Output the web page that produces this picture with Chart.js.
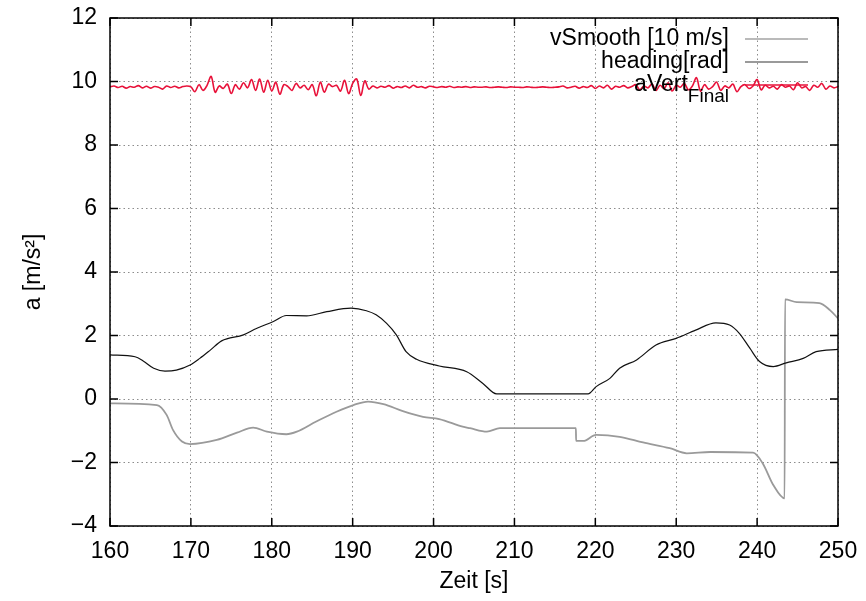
<!DOCTYPE html>
<html>
<head>
<meta charset="utf-8">
<script src="https://cdn.jsdelivr.net/npm/chart.js@4/dist/chart.umd.min.js"></script>
<style>
  html, body { margin: 0; padding: 0; background: #fff; }
  canvas { display: block; }
</style>
</head>
<body>
<canvas id="chart" width="866" height="601"></canvas>
<script>
// vSmooth [10 m/s] - black line
const vSmoothTime = [160, 163.1, 164.1, 165.4, 166.8, 168.2, 169.9, 171.1, 172.4, 173.8, 176.5, 178.1, 180.2, 181.8, 184.3, 186.8, 189.8, 191.7, 192.9, 194.2, 195.4, 196.6, 197.9, 200.7, 204.1, 206.1, 207.8, 219.1, 220.1, 221.8, 223, 225.1, 227.5, 230, 232.4, 234.9, 236.6, 237.8, 239.1, 240.3, 242, 243.6, 245.7, 247.3, 250];
const vSmoothValues = [1.39, 1.33, 1.2, 0.97, 0.88, 0.91, 1.07, 1.28, 1.54, 1.83, 2.02, 2.22, 2.44, 2.63, 2.62, 2.75, 2.86, 2.78, 2.65, 2.38, 2.02, 1.49, 1.25, 1.04, 0.86, 0.49, 0.16, 0.16, 0.39, 0.65, 0.97, 1.23, 1.7, 1.91, 2.17, 2.4, 2.33, 2.07, 1.6, 1.18, 1.02, 1.14, 1.28, 1.49, 1.56];

// heading[rad] - grey line
const headingTime = [160, 165.8, 167, 167.8, 168.9, 169.9, 173.2, 175.7, 177.7, 179.4, 181.8, 183.1, 185.5, 188, 190.1, 191.9, 193.8, 196.2, 198.7, 200.7, 203.6, 204.5, 206.6, 208.2, 217.6, 217.62, 218.5, 220.1, 223, 225.9, 229.2, 231.3, 234.2, 239.5, 240.7, 242, 243.4, 243.45, 244.9, 247.7, 249, 250];
const headingValues = [-0.14, -0.19, -0.5, -0.98, -1.34, -1.42, -1.29, -1.06, -0.9, -1.03, -1.11, -1.03, -0.71, -0.4, -0.19, -0.08, -0.16, -0.38, -0.56, -0.63, -0.87, -0.92, -1.03, -0.92, -0.92, -1.32, -1.32, -1.13, -1.19, -1.37, -1.55, -1.71, -1.67, -1.69, -2.03, -2.71, -3.13, 3.14, 3.05, 3.02, 2.8, 2.54];

// aVert_Final - red line, sampled every 0.5 s from 160 s
const aVertStart = 160;
const aVertStep = 0.5;
const aVertValues = [
  9.83, 9.86, 9.81, 9.85, 9.79, 9.84, 9.82, 9.87, 9.80, 9.85, 9.79, 9.84, 9.82, 9.76, 9.86, 9.81, 9.85, 9.80, 9.84, 9.86, 9.83,
  9.68, 9.90, 9.72, 9.88, 10.16, 9.66, 9.86, 9.78, 9.92, 9.62, 9.90, 9.76, 9.96, 9.80,
  10.06, 9.72, 10.08, 9.66, 10.04, 9.70, 9.98, 9.60, 9.90, 9.84, 9.72, 9.94, 9.80, 9.88, 9.74, 9.90,
  9.55, 9.98, 9.66, 9.92, 9.84, 9.88, 9.70, 10.04, 9.62, 9.94, 10.08, 9.56, 10.02, 9.76,
  9.86, 9.80, 9.85, 9.82, 9.87, 9.79, 9.84, 9.81, 9.86, 9.80, 9.88, 9.82, 9.84, 9.80, 9.85, 9.83, 9.81, 9.84, 9.82, 9.85,
  9.81, 9.83, 9.82, 9.84, 9.81, 9.83, 9.82, 9.82, 9.83, 9.81, 9.82, 9.83, 9.82, 9.81, 9.83, 9.82, 9.82, 9.81, 9.83, 9.82,
  9.81, 9.82, 9.83, 9.82, 9.81, 9.82,
  9.83, 9.86, 9.80, 9.82, 9.85, 9.79, 9.84, 9.81, 9.87, 9.78, 9.86, 9.80, 9.88, 9.76, 9.85, 9.82, 9.87, 9.80, 9.84, 9.90,
  9.74, 9.86, 9.80, 9.92, 9.72, 9.88, 9.78, 9.96, 9.70, 9.88, 9.82, 9.94, 9.74, 9.86, 10.12, 9.70, 9.90, 9.76, 9.84, 9.98,
  9.72, 9.86, 9.80, 9.92, 9.68, 9.84, 9.90, 9.78, 9.86, 10.06, 9.74, 9.88, 9.80, 9.85, 9.76, 9.90, 9.82, 9.86, 9.74, 9.96,
  9.80, 9.84, 9.72, 9.88, 9.82, 9.94, 9.76, 9.86, 9.80, 9.84
];

const xTicks = [160, 170, 180, 190, 200, 210, 220, 230, 240, 250];
const yTicks = [-4, -2, 0, 2, 4, 6, 8, 10, 12];

const FONT = "'Liberation Sans', Arial, Helvetica, sans-serif";

const toPoints = (xs, ys) => ys.map((y, i) => ({ x: xs[i], y: y }));

const aVertPoints = aVertValues.map((y, i) => ({ x: aVertStart + i * aVertStep, y: y }));

// gnuplot-like frame with inward ticks on all four sides
const framePlugin = {
    id: "frame",
    afterDatasetsDraw(chart) {
        const { ctx, chartArea, scales } = chart;
        const len = 8;
        ctx.save();
        ctx.strokeStyle = "#000";
        ctx.lineWidth = 1.5;
        ctx.beginPath();
        xTicks.forEach((v) => {
            const px = scales.x.getPixelForValue(v);
            ctx.moveTo(px, chartArea.bottom);
            ctx.lineTo(px, chartArea.bottom - len);
            ctx.moveTo(px, chartArea.top);
            ctx.lineTo(px, chartArea.top + len);
        });
        yTicks.forEach((v) => {
            const py = scales.y.getPixelForValue(v);
            ctx.moveTo(chartArea.left, py);
            ctx.lineTo(chartArea.left + len, py);
            ctx.moveTo(chartArea.right, py);
            ctx.lineTo(chartArea.right - len, py);
        });
        ctx.stroke();
        ctx.strokeRect(chartArea.left, chartArea.top, chartArea.right - chartArea.left, chartArea.bottom - chartArea.top);
        ctx.restore();
    },
    afterDraw(chart) {
        // key in the top right corner, text right aligned, sample line after it
        const { ctx, chartArea } = chart;
        const textRight = chartArea.right - 109;
        const lineStart = chartArea.right - 93;
        const lineEnd = chartArea.right - 30;
        const rows = [chartArea.top + 21, chartArea.top + 44, chartArea.top + 67];
        const datasets = chart.data.datasets;
        ctx.save();
        ctx.textBaseline = "middle";
        ctx.textAlign = "right";
        ctx.fillStyle = "#000";
        ctx.font = "23px " + FONT;
        ctx.fillText("vSmooth [10 m/s]", textRight, rows[0]);
        ctx.fillText("heading[rad]", textRight, rows[1]);
        ctx.font = "19px " + FONT;
        const subW = ctx.measureText("Final").width;
        ctx.fillText("Final", textRight, rows[2] + 12);
        ctx.font = "23px " + FONT;
        ctx.fillText("aVert", textRight - subW, rows[2]);
        rows.forEach((y, i) => {
            ctx.strokeStyle = i === 0 ? "#777" : datasets[i].borderColor;
            ctx.lineWidth = datasets[i].borderWidth;
            ctx.beginPath();
            ctx.moveTo(lineStart, y);
            ctx.lineTo(lineEnd, y);
            ctx.stroke();
        });
        ctx.restore();
    },
};

new Chart(document.getElementById("chart").getContext("2d"), {
    type: "line",
    data: {
        datasets: [
            {
                label: "vSmooth [10 m/s]",
                data: toPoints(vSmoothTime, vSmoothValues),
                borderColor: "#111",
                borderWidth: 1.2,
                pointRadius: 0,
                cubicInterpolationMode: "monotone",
            },
            {
                label: "heading[rad]",
                data: toPoints(headingTime, headingValues),
                borderColor: "#9a9a9a",
                borderWidth: 1.8,
                pointRadius: 0,
                cubicInterpolationMode: "monotone",
            },
            {
                label: "aVert_Final",
                data: aVertPoints,
                borderColor: "#e8123a",
                borderWidth: 1.6,
                pointRadius: 0,
                tension: 0.35,
            },
        ],
    },
    options: {
        responsive: false,
        animation: false,
        layout: { padding: { top: 18, right: 28, left: 0, bottom: 0 } },
        plugins: {
            legend: { display: false },
            tooltip: { enabled: false },
            title: { display: false },
        },
        scales: {
            x: {
                type: "linear",
                min: 160,
                max: 250,
                afterBuildTicks: (scale) => { scale.ticks = xTicks.map((v) => ({ value: v })); },
                afterFit: (scale) => {
                    scale.height = 75;
                    scale.paddingLeft = 0;
                    scale.paddingRight = 0;
                },
                ticks: {
                    padding: 12,
                    color: "#000",
                    font: { family: FONT, size: 23 },
                    maxRotation: 0,
                },
                grid: {
                    color: "rgba(0,0,0,0.45)",
                    lineWidth: 1,
                    drawTicks: false,
                },
                border: { display: false, dash: [1.5, 3] },
                title: {
                    display: true,
                    text: "Zeit [s]",
                    color: "#000",
                    font: { family: FONT, size: 23 },
                    padding: { top: 0, bottom: 6 },
                },
            },
            y: {
                min: -4,
                max: 12,
                afterBuildTicks: (scale) => { scale.ticks = yTicks.map((v) => ({ value: v })); },
                afterFit: (scale) => {
                    scale.width = 110;
                    scale.paddingTop = 0;
                    scale.paddingBottom = 0;
                },
                ticks: {
                    padding: 13,
                    color: "#000",
                    font: { family: FONT, size: 23 },
                    callback: (v) => String(v).replace("-", "\u2212"),
                },
                grid: {
                    color: "rgba(0,0,0,0.45)",
                    lineWidth: 1,
                    drawTicks: false,
                },
                border: { display: false, dash: [1.5, 3] },
                title: {
                    display: true,
                    text: "a [m/s\u00b2]",
                    color: "#000",
                    font: { family: FONT, size: 23 },
                    padding: { top: 20, bottom: 0 },
                },
            },
        },
    },
    plugins: [framePlugin],
});
</script>
</body>
</html>
